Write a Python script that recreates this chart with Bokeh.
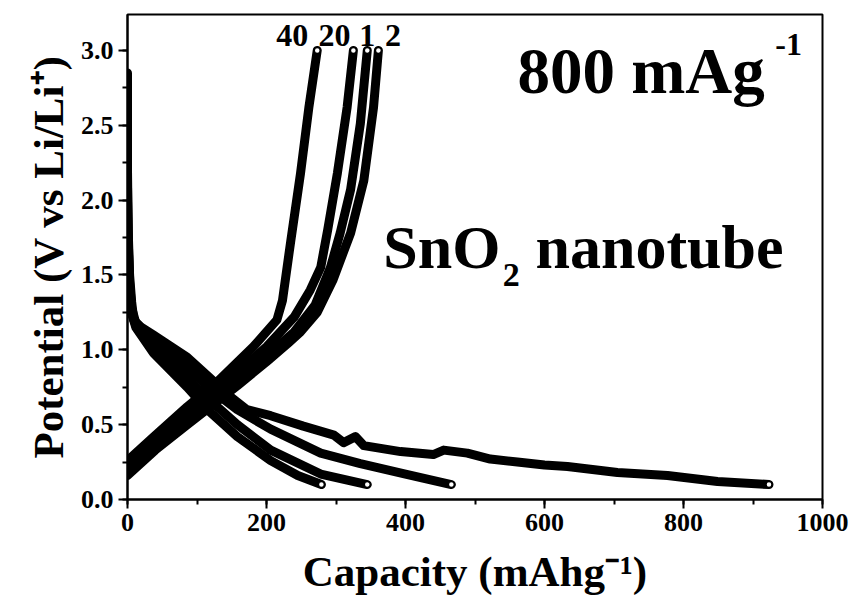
from bokeh.plotting import figure
from bokeh.models import Label, FixedTicker, CustomJSTickFormatter
from bokeh.embed import file_html
from bokeh.resources import INLINE

# ---- data ----
dis1_cap = [0, 0, 1, 3, 6, 9, 20, 37, 86, 124, 150, 172, 206, 253, 297, 311, 328, 340, 393, 440, 455, 489, 522, 561, 600, 633, 705, 777, 849, 923]
dis1_v = [2.85, 2.2, 1.8, 1.5, 1.32, 1.2, 1.15, 1.10, 0.95, 0.79, 0.68, 0.60, 0.56, 0.49, 0.43, 0.38, 0.42, 0.36, 0.32, 0.30, 0.33, 0.31, 0.27, 0.25, 0.23, 0.22, 0.18, 0.16, 0.12, 0.10]

dis2_cap = [0, 0, 1, 3, 6, 12, 37, 86, 124, 158, 206, 278, 335, 400, 466]
dis2_v = [2.7, 2.1, 1.75, 1.45, 1.28, 1.18, 1.06, 0.88, 0.72, 0.60, 0.47, 0.31, 0.24, 0.17, 0.10]

dis20_cap = [0, 0, 1, 3, 6, 12, 37, 86, 124, 158, 206, 278, 345]
dis20_v = [2.6, 2.0, 1.7, 1.42, 1.26, 1.16, 1.02, 0.81, 0.64, 0.50, 0.33, 0.17, 0.10]

dis40_cap = [0, 0, 1, 3, 6, 12, 37, 86, 115, 158, 206, 245, 279]
dis40_v = [2.5, 1.9, 1.6, 1.35, 1.24, 1.15, 0.98, 0.75, 0.60, 0.42, 0.26, 0.16, 0.10]

chg1_cap = [0, 40, 86, 158, 200, 240, 270, 292, 306, 321, 335, 345]
chg1_v = [0.18, 0.35, 0.53, 0.80, 0.96, 1.12, 1.30, 1.55, 1.78, 2.07, 2.51, 3.0]

chg2_cap = [0, 40, 86, 158, 200, 230, 249, 273, 296, 321, 340, 354, 361]
chg2_v = [0.16, 0.33, 0.50, 0.76, 0.92, 1.04, 1.12, 1.25, 1.47, 1.78, 2.13, 2.62, 3.0]

chg20_cap = [0, 40, 86, 158, 200, 240, 263, 278, 288, 302, 316, 325]
chg20_v = [0.22, 0.38, 0.57, 0.85, 1.02, 1.22, 1.40, 1.55, 1.80, 2.18, 2.62, 3.0]

chg40_cap = [0, 38, 86, 130, 181, 215, 223, 235, 249, 261, 273]
chg40_v = [0.26, 0.42, 0.62, 0.79, 1.02, 1.20, 1.33, 1.73, 2.18, 2.62, 3.0]

cycle_labels = ["40", "20", "1", "2"]
cycle_label_x = [237, 298, 345, 382]

x_ticks = [0, 200, 400, 600, 800, 1000]
y_ticks = [0.0, 0.5, 1.0, 1.5, 2.0, 2.5, 3.0]

FONT = "Liberation Serif"

p = figure(width=853, height=597, output_backend="svg", toolbar_location=None,
           x_range=(0, 1000), y_range=(0, 3.24),
           min_border_left=127, min_border_right=31, min_border_top=14, min_border_bottom=97)
p.background_fill_color = "white"
p.border_fill_color = "white"
p.grid.visible = False
p.outline_line_color = "black"
p.outline_line_width = 2
p.outline_line_alpha = 1.0

curves = [(dis1_cap, dis1_v), (dis2_cap, dis2_v), (dis20_cap, dis20_v), (dis40_cap, dis40_v),
          (chg1_cap, chg1_v), (chg2_cap, chg2_v), (chg20_cap, chg20_v), (chg40_cap, chg40_v)]
for xs, ys in curves:
    p.line(xs, ys, line_color="black", line_width=9, line_join="round", line_cap="round")
for xs, ys in curves:
    p.scatter([xs[-1]], [ys[-1]], marker="circle", size=6, fill_color="white",
              line_color="black", line_width=1.5)

# axes
for ax in (p.xaxis[0], p.yaxis[0]):
    ax.axis_line_width = 2
    ax.major_tick_line_width = 2
    ax.minor_tick_line_width = 2
    ax.major_tick_out = 9
    ax.major_tick_in = 0
    ax.minor_tick_out = 5
    ax.minor_tick_in = 0
    ax.major_label_text_font = FONT
    ax.major_label_text_font_style = "bold"
    ax.major_label_text_font_size = "26px"
    ax.major_label_text_color = "black"
    ax.axis_label_text_font = FONT
    ax.axis_label_text_font_style = "bold"
    ax.axis_label_text_font_size = "43px"
    ax.axis_label_text_color = "black"

p.xaxis.ticker = FixedTicker(ticks=x_ticks, minor_ticks=list(range(0, 1001, 100)))
p.yaxis.ticker = FixedTicker(ticks=y_ticks, minor_ticks=[i * 0.25 for i in range(0, 14)])
p.yaxis.formatter = CustomJSTickFormatter(code="return tick.toFixed(1);")
p.xaxis.axis_label = "Capacity (mAhg\u207b\u00b9)"
p.yaxis.axis_label = "Potential (V vs Li/Li\u207a)"
p.xaxis.axis_label_standoff = 14
p.yaxis.axis_label_standoff = 6
p.xaxis.major_label_standoff = 5
p.yaxis.major_label_standoff = 5

# annotations
for t, xv in zip(cycle_labels, cycle_label_x):
    p.add_layout(Label(x=xv, y=3.10, text=t, text_font=FONT, text_font_style="bold",
                       text_font_size="32px", text_align="center", text_baseline="alphabetic",
                       text_color="black"))

p.add_layout(Label(x=561, y=2.86, text="800 mAg", text_font=FONT, text_font_style="bold",
                   text_font_size="65px", text_baseline="alphabetic", text_color="black"))
p.add_layout(Label(x=932, y=3.04, text="-1", text_font=FONT, text_font_style="bold",
                   text_font_size="32px", text_baseline="alphabetic", text_color="black"))
p.add_layout(Label(x=368, y=1.69, text="SnO", text_font=FONT, text_font_style="bold",
                   text_font_size="62px", text_baseline="alphabetic", text_color="black"))
p.add_layout(Label(x=540, y=1.50, text="2", text_font=FONT, text_font_style="bold",
                   text_font_size="34px", text_baseline="alphabetic", text_color="black"))
p.add_layout(Label(x=587, y=1.69, text="nanotube", text_font=FONT, text_font_style="bold",
                   text_font_size="62px", text_baseline="alphabetic", text_color="black"))

open("out.html", "w").write(file_html(p, INLINE))
